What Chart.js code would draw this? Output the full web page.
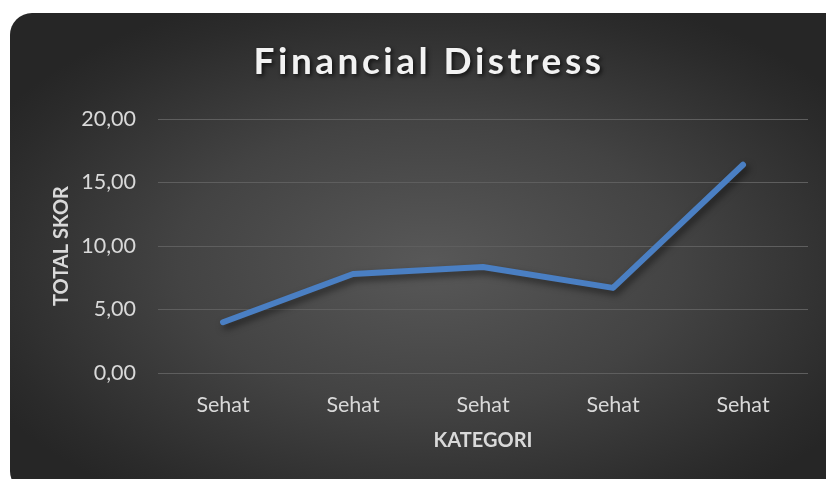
<!DOCTYPE html>
<html>
<head>
<meta charset="utf-8">
<script src="https://cdn.jsdelivr.net/npm/chart.js@4.4.1/dist/chart.umd.min.js"></script>
<style>
    html, body { margin: 0; padding: 0; background: #ffffff; overflow: hidden; }
    #wrap { position: relative; width: 826px; height: 479px; overflow: hidden; }
    #panel {
        position: absolute; left: 10px; top: 13px; width: 840px; height: 480px;
        border-radius: 22px;
        background: radial-gradient(ellipse 60% 60% at 50% 52%, #585858 0%, #434343 50%, #2b2b2b 90%, #262626 100%);
    }
    #myChart { position: absolute; left: 0; top: 0; }
</style>
</head>
<body>
<div id="wrap">
    <div id="panel"></div>
    <canvas id="myChart" width="826" height="479"></canvas>
</div>
<script>
let categories = ["Sehat", "Sehat", "Sehat", "Sehat", "Sehat"];
let totalSkor = [4.0, 7.8, 8.35, 6.7, 16.4];
let yTicks = [0, 5, 10, 15, 20];

document.addEventListener("DOMContentLoaded", function () {
    let ctx = document.getElementById("myChart").getContext("2d");
    let fontFamily = "Lato, 'Open Sans', sans-serif";

    // shadow under the line and the title, like the Excel style
    let shadowPlugin = {
        id: "shadows",
        beforeDraw(chart) {
            let tb = chart.titleBlock;
            if (tb && !tb._wrapped) {
                let orig = tb.draw;
                tb.draw = function () {
                    let c = chart.ctx;
                    c.save();
                    c.letterSpacing = "3.5px";
                    c.shadowColor = "rgba(0,0,0,0.7)";
                    c.shadowBlur = 4;
                    c.shadowOffsetX = 2;
                    c.shadowOffsetY = 2;
                    orig.apply(this, arguments);
                    c.restore();
                };
                tb._wrapped = true;
            }
        },
        beforeDatasetDraw(chart) {
            let c = chart.ctx;
            c.save();
            c.shadowColor = "rgba(0,0,0,0.5)";
            c.shadowBlur = 7;
            c.shadowOffsetX = 3;
            c.shadowOffsetY = 4;
        },
        afterDatasetDraw(chart) {
            chart.ctx.restore();
        }
    };

    new Chart(ctx, {
        type: "line",
        data: {
            labels: categories,
            datasets: [{
                label: "Total Skor",
                data: totalSkor,
                borderColor: "#4a7fc3",
                borderWidth: 6,
                borderCapStyle: "round",
                borderJoinStyle: "round",
                pointRadius: 0,
                tension: 0
            }]
        },
        options: {
            responsive: false,
            animation: false,
            devicePixelRatio: 1,
            layout: {
                padding: { left: 50, right: 18, top: 0, bottom: 0 }
            },
            plugins: {
                legend: { display: false },
                tooltip: { enabled: false },
                title: {
                    display: true,
                    text: "Financial Distress",
                    color: "#f2f2f2",
                    font: { family: fontFamily, size: 37, weight: "bold" },
                    padding: { top: 40, bottom: 34.6 }
                }
            },
            scales: {
                x: {
                    offset: true,
                    grid: { display: false, drawTicks: false },
                    border: { display: false },
                    ticks: {
                        color: "#d9d9d9",
                        font: { family: fontFamily, size: 21.5 },
                        padding: 19,
                        maxRotation: 0,
                        minRotation: 0
                    },
                    title: {
                        display: true,
                        text: "KATEGORI",
                        color: "#d9d9d9",
                        font: { family: fontFamily, size: 20, weight: "bold" },
                        padding: { top: 0, bottom: 26 }
                    },
                    afterFit: function (scale) {
                        scale.height = 479 - 373;
                    }
                },
                y: {
                    min: 0,
                    max: 20,
                    afterBuildTicks: function (scale) {
                        scale.ticks = yTicks.map(v => ({ value: v }));
                    },
                    grid: { color: "#5e5e5e", lineWidth: 1, drawTicks: false },
                    border: { display: false },
                    ticks: {
                        color: "#d9d9d9",
                        font: { family: fontFamily, size: 21.5 },
                        padding: 22,
                        callback: v => v.toFixed(2).replace(".", ",")
                    },
                    title: {
                        display: true,
                        text: "TOTAL SKOR",
                        color: "#d9d9d9",
                        font: { family: fontFamily, size: 20, weight: "bold" },
                        padding: { top: 0, bottom: 0 }
                    },
                    afterFit: function (scale) {
                        scale.width = 158 - 50;
                    }
                }
            }
        },
        plugins: [shadowPlugin]
    });
});
</script>
</body>
</html>
